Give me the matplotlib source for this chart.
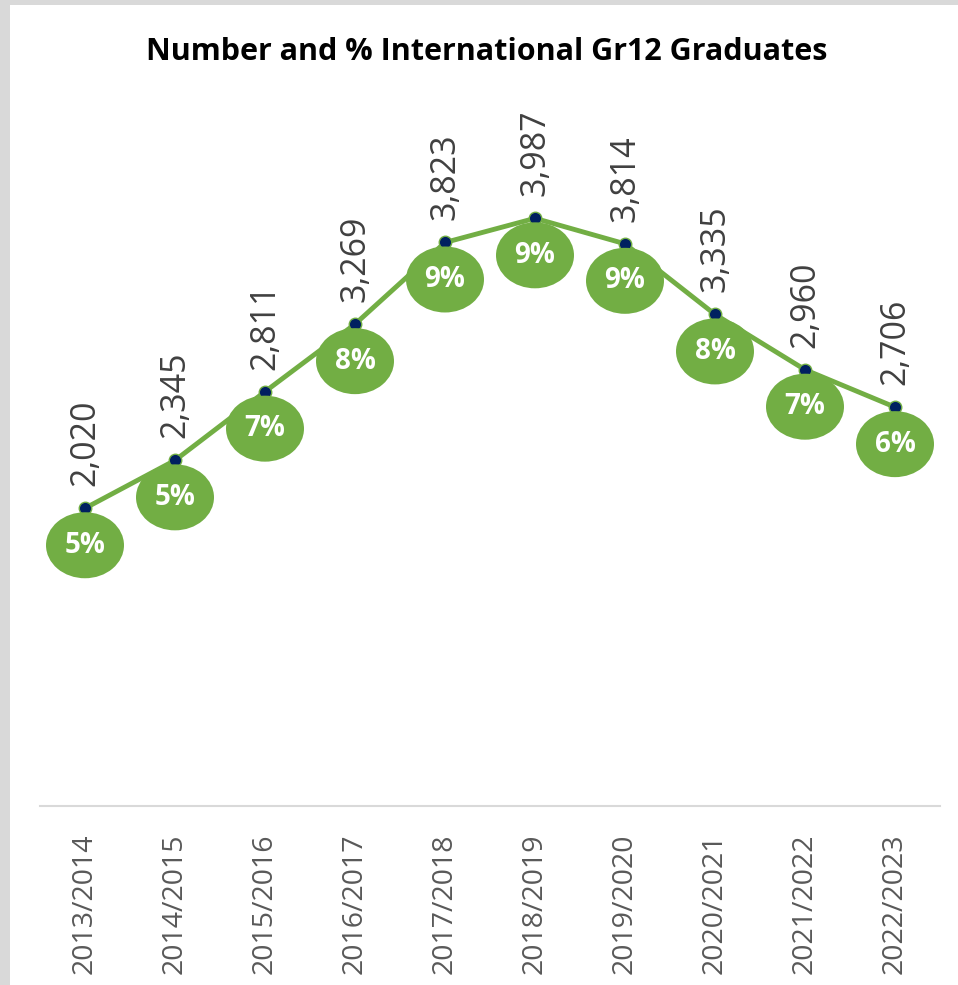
import matplotlib
matplotlib.use("Agg")
import matplotlib.pyplot as plt
from matplotlib.patches import Ellipse, Rectangle
from matplotlib.transforms import ScaledTranslation

years = ["2013/2014", "2014/2015", "2015/2016", "2016/2017", "2017/2018",
         "2018/2019", "2019/2020", "2020/2021", "2021/2022", "2022/2023"]
graduates = [2020, 2345, 2811, 3269, 3823, 3987, 3814, 3335, 2960, 2706]
pct = [5, 5, 7, 8, 9, 9, 9, 8, 7, 6]

GREEN = "#72AE44"
NAVY = "#002060"
FONT = "Open Sans"

fig = plt.figure(figsize=(9.58, 9.85), dpi=100, facecolor="#D9D9D9")
fig.patches.append(Rectangle((10 / 958, 0), 1, 980 / 985, transform=fig.transFigure,
                             facecolor="white", edgecolor="none", zorder=-10))
ax = fig.add_axes([40 / 958, (985 - 806) / 985, 900 / 958, (806 - 69) / 985])
ax.set_facecolor("none")
ax.set_zorder(5)

x = list(range(len(years)))
ax.plot(x, graduates, color=GREEN, lw=3.5, marker="o", ms=9, mfc=NAVY, mec=GREEN,
        mew=1, zorder=3, solid_capstyle="round")

ax.set_xlim(-0.5, len(years) - 0.5)
ax.set_ylim(0, 5000)
ax.set_yticks([])
for s in ["left", "right", "top"]:
    ax.spines[s].set_visible(False)
ax.spines["bottom"].set_color("#D9D9D9")
ax.spines["bottom"].set_linewidth(1.5)
ax.set_xticks(x)
ax.set_xticklabels(years, rotation=90, fontsize=20.5, color="#595959", family=FONT,
                   va="top")
ax.tick_params(axis="x", length=0, pad=20)

for xi, g, p in zip(x, graduates, pct):
    trans = fig.dpi_scale_trans + ScaledTranslation(xi, g, ax.transData)
    ax.add_patch(Ellipse((0, -0.37), 0.78, 0.66, transform=trans,
                         facecolor=GREEN, edgecolor="none", zorder=5, clip_on=False))
    ax.annotate(f"{p}%", (xi, g), xytext=(0, -37), textcoords="offset pixels",
                ha="center", va="center", fontsize=20, fontweight="bold",
                color="white", family=FONT, zorder=6)
    ax.annotate(f"{g:,}", (xi, g), xytext=(0, 22), textcoords="offset pixels",
                ha="center", va="bottom", rotation=90, fontsize=24.5,
                color="#404040", family=FONT, zorder=6)

fig.text(487 / 958, 1 - 52 / 985, "Number and % International Gr12 Graduates",
         ha="center", va="center", fontsize=22, fontweight="bold", color="black",
         family=FONT, zorder=10)

fig.savefig("out.png", dpi=100, facecolor=fig.get_facecolor())
